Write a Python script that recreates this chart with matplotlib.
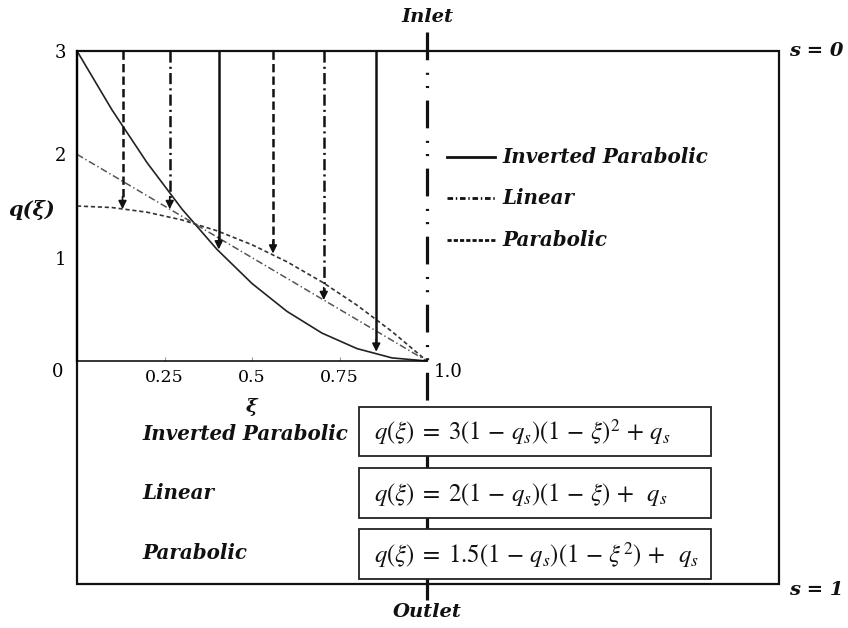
import matplotlib
matplotlib.use('Agg')
import matplotlib.pyplot as plt
from matplotlib.patches import Rectangle

plt.rcParams['lines.scale_dashes'] = False
plt.rcParams['mathtext.fontset'] = 'stix'

# values
xi = [0.0, 0.1, 0.2, 0.3, 0.4, 0.5, 0.6, 0.7, 0.8, 0.9, 1.0]
q_inverted = [3.0, 2.43, 1.92, 1.47, 1.08, 0.75, 0.48, 0.27, 0.12, 0.03, 0.0]
q_linear = [2.0, 1.8, 1.6, 1.4, 1.2, 1.0, 0.8, 0.6, 0.4, 0.2, 0.0]
q_parabolic = [1.5, 1.485, 1.44, 1.365, 1.26, 1.125, 0.96, 0.765, 0.54, 0.285, 0.0]

arrow_x = [0.13, 0.265, 0.405, 0.56, 0.705, 0.855]
arrow_tip = [1.47, 1.47, 1.08, 1.04, 0.59, 0.09]
arrow_kind = ['parabolic', 'linear', 'inverted', 'parabolic', 'linear', 'inverted']

names = ['Inverted Parabolic', 'Linear', 'Parabolic']
formulas = [r'$q(\xi)\;=\;3(1\,-\,q_s)(1\,-\,\xi)^2\,+\,q_s$',
            r'$q(\xi)\;=\;2(1\,-\,q_s)(1\,-\,\xi)\,+\;\;q_s$',
            r'$q(\xi)\;=\;1.5(1\,-\,q_s)(1\,-\,\xi^2)\,+\;\;q_s$']

styles = {'inverted': '-', 'linear': (0, (8, 3, 1.5, 3)), 'parabolic': (0, (6, 3))}

W, H = 848, 628
fig = plt.figure(figsize=(W / 100, H / 100), dpi=100)

# background layer in pixel coordinates
bg = fig.add_axes([0, 0, 1, 1])
bg.set_xlim(0, W)
bg.set_ylim(H, 0)
bg.axis('off')

lab = dict(family='DejaVu Serif', weight='bold', style='italic', color='#111')

# big frame
bg.add_patch(Rectangle((77, 51), 779 - 77, 584 - 51, fill=False, lw=1.6, ec='#111', zorder=1))
# centre line
bg.plot([427, 427], [32, 600], color='#111', lw=2.3, zorder=2,
        linestyle=(0, (20, 9, 1.5, 8, 1.5, 9)))
bg.text(427, 17, 'Inlet', ha='center', va='center', fontsize=14, **lab)
bg.text(427, 612, 'Outlet', ha='center', va='center', fontsize=14, **lab)
bg.text(789, 51, 's = 0', ha='left', va='center', fontsize=14, **lab)
bg.text(789, 590, 's = 1', ha='left', va='center', fontsize=14, **lab)

# legend drawn by hand
leg_y = [157, 198, 240]
leg_ls = ['-', (0, (4, 2, 1, 2)), (0, (3, 1.5))]
for y, ls, name in zip(leg_y, leg_ls, names):
    bg.plot([447, 495], [y, y], color='#111', lw=2, linestyle=ls)
    bg.text(502, y, name, ha='left', va='center', fontsize=14.3, **lab)

# formula boxes
box_y = [(407, 456), (468, 518), (529, 579)]
lab_y = [434, 493, 553]
for (y0, y1), ly, name, f in zip(box_y, lab_y, names, formulas):
    bg.add_patch(Rectangle((359, y0), 711 - 359, y1 - y0, fc='white', ec='#222', lw=1.3, zorder=3))
    bg.text(374, (y0 + y1) / 2 + 1, f, ha='left', va='center', fontsize=17.8, color='#111', zorder=4)
    bg.text(142, ly, name, ha='left', va='center', fontsize=14.3, **lab)

# chart area
ax = fig.add_axes([77 / W, (H - 361) / H, 350 / W, 310 / H])
ax.set_facecolor('none')
ax.set_xlim(0, 1)
ax.set_ylim(0, 3)
ax.spines['top'].set_visible(False)
ax.spines['right'].set_visible(False)
ax.spines['left'].set_linewidth(1.6)
ax.spines['bottom'].set_linewidth(1.1)

ax.plot(xi, q_inverted, color='#222', lw=1.2, linestyle='-', clip_on=False)
ax.plot(xi, q_linear, color='#555', lw=1.1, linestyle=(0, (5, 2, 1, 2)), clip_on=False)
ax.plot(xi, q_parabolic, color='#333', lw=1.2, linestyle=(0, (3, 2)), clip_on=False)

for x, tip, kind in zip(arrow_x, arrow_tip, arrow_kind):
    ax.plot([x, x], [3, tip + 0.08], color='#111', lw=1.8, linestyle=styles[kind], clip_on=False)
    ax.annotate('', xy=(x, tip), xytext=(x, tip + 0.12),
                arrowprops=dict(arrowstyle='-|>', color='#111', lw=1.2,
                                mutation_scale=12, shrinkA=0, shrinkB=0))

ax.set_xticks([0.25, 0.5, 0.75])
ax.set_xticklabels(['0.25', '0.5', '0.75'], family='DejaVu Serif', fontsize=12.5)
ax.set_yticks([1, 2, 3])
ax.set_yticklabels(['1', '2', '3'], family='DejaVu Serif', fontsize=13)
ax.tick_params(axis='x', direction='in', length=3, width=0.8, color='#999', pad=6)
ax.tick_params(axis='y', length=0, pad=8)
ax.text(-0.04, -0.02, '0', ha='right', va='top', family='DejaVu Serif', fontsize=13)
ax.text(1.02, -0.02, '1.0', ha='left', va='top', family='DejaVu Serif', fontsize=13)
ax.text(-0.13, 1.46, 'q(ξ)', ha='center', va='center', fontsize=15, **lab)
ax.text(0.5, -0.45, 'ξ', ha='center', va='center', fontsize=14, **lab)

fig.savefig('out.png', dpi=100)
